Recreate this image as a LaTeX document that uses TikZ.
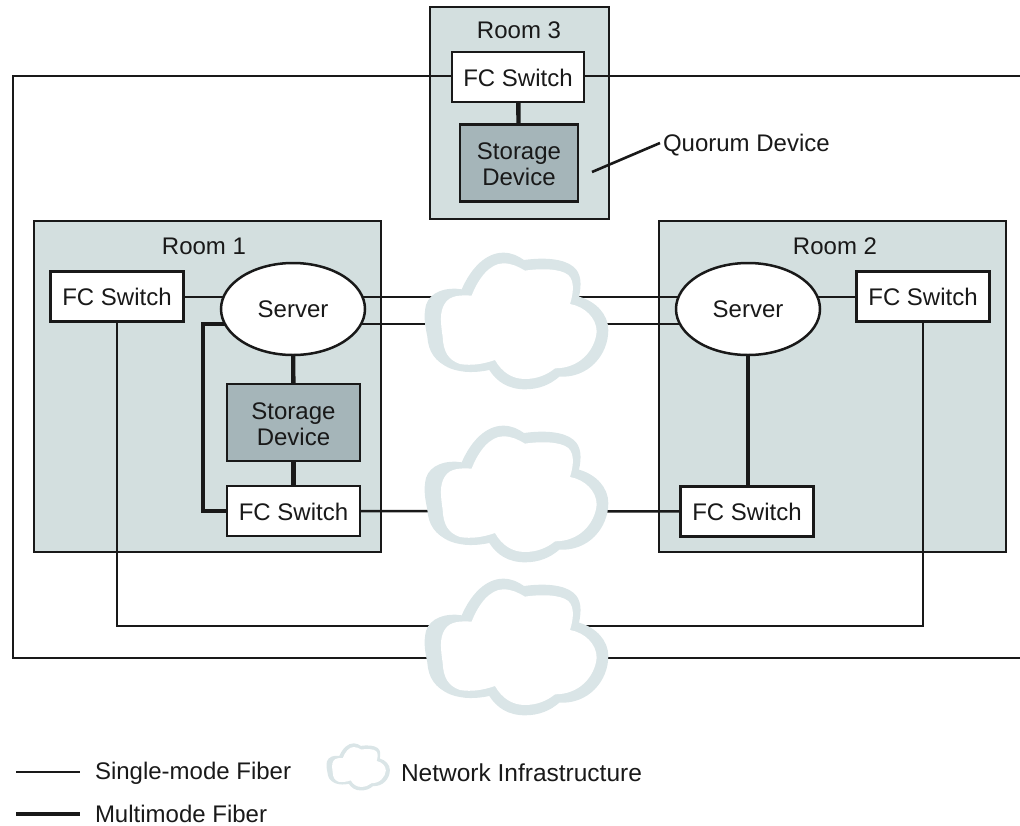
\documentclass[tikz,border=0pt]{standalone}
\usepackage{fontspec}
\setmainfont{Liberation Sans}
\usetikzlibrary{shapes.geometric}
\pgfdeclarelayer{roomlayer}
\pgfdeclarelayer{linelayer}
\pgfsetlayers{roomlayer,linelayer,main}
\definecolor{roomfill}{HTML}{D3DFDF}
\definecolor{storefill}{HTML}{A5B5B9}
\definecolor{cloudfill}{HTML}{DAE5E7}
\tikzset{
  every node/.style={font=\fontsize{24}{26}\selectfont, text=black!90, inner sep=0pt, outer sep=0pt},
  switchbox/.style={draw=black!90, line width=2.5pt, fill=white, rectangle, minimum width=133pt, minimum height=50pt},
  storebox/.style={draw=black!90, line width=2.5pt, fill=storefill, rectangle, minimum width=133pt, minimum height=77pt, align=center},
  serverell/.style={draw=black!90, line width=2.5pt, fill=white, ellipse, minimum width=144pt, minimum height=92pt},
  thin fiber/.style={draw=black!90, line width=2.6pt},
  thick fiber/.style={draw=black!90, line width=4.4pt},
  label text/.style={anchor=west}
}
\newcommand{\cloudshape}[3]{%
\begin{scope}[shift={(#1,#2)},scale=#3]
\fill[cloudfill] (185,178) .. controls (215,110) and (260,68) .. (310,68)
  .. controls (335,68) and (355,78) .. (372,90)
  .. controls (430,82) and (490,85) .. (520,110)
  .. controls (545,130) and (545,165) .. (537,200)
  .. controls (590,215) and (625,255) .. (625,300)
  .. controls (625,375) and (565,445) .. (478,440)
  .. controls (450,465) and (415,478) .. (375,478)
  .. controls (325,478) and (290,455) .. (268,420)
  .. controls (230,428) and (190,430) .. (150,415)
  .. controls (105,395) and (85,365) .. (82,320)
  .. controls (75,285) and (70,260) .. (78,225)
  .. controls (90,185) and (140,170) .. (185,178) -- cycle;
\fill[white] (215,197) .. controls (235,145) and (270,100) .. (310,100)
  .. controls (335,100) and (355,110) .. (375,122)
  .. controls (420,115) and (480,115) .. (505,135)
  .. controls (525,155) and (520,190) .. (510,222)
  .. controls (555,230) and (590,265) .. (590,305)
  .. controls (585,360) and (540,415) .. (465,415)
  .. controls (440,435) and (410,447) .. (375,447)
  .. controls (335,447) and (305,425) .. (285,390)
  .. controls (250,402) and (215,408) .. (180,402)
  .. controls (145,390) and (130,365) .. (128,320)
  .. controls (122,280) and (118,245) .. (135,220)
  .. controls (150,195) and (185,195) .. (215,197) -- cycle;
\end{scope}}
\begin{document}
\begin{tikzpicture}[x=1pt,y=-1pt]
\useasboundingbox (0,0) rectangle (1020,825);
% helper levels
\coordinate (ya) at (0,297);
\coordinate (yb) at (0,324);
\coordinate (yc) at (0,626);
\coordinate (yd) at (0,658);
\coordinate (ye) at (0,76);
\coordinate (fl) at (13,0);
\coordinate (fr) at (1020,0);
\coordinate (bendx) at (203,0);
\coordinate (lowleft) at (117,0);
\coordinate (lowright) at (923,0);
% nodes
\node[switchbox, minimum width=132pt] (sw3) at (518,77) {\rule{0pt}{20pt}FC Switch};
\node[storebox, minimum width=118pt] (st3) at (519,163) {\rule{0pt}{20pt}Storage\\Device};
\node[switchbox] (sw1a) at (117,296.5) {FC Switch};
\node[serverell] (srv1) at (293,309) {Server};
\node[storebox] (st1) at (293.5,422.5) {\rule{0pt}{20.5pt}Storage\\Device};
\node[switchbox] (sw1b) at (293.5,511) {\rule{0pt}{19pt}FC Switch};
\node[serverell] (srv2) at (748,309) {Server};
\node[switchbox] (sw2a) at (923,296.5) {FC Switch};
\node[switchbox] (sw2b) at (747,511.5) {FC Switch};
\node (r3) at (519,30) {Room 3};
\node (r1) at (204,246) {Room 1};
\node (r2) at (835,246) {Room 2};
\node[label text] (qd) at (663,145) {Quorum Device};
\coordinate (qdend) at (592,172);
\coordinate (qdline) at (660,143);
\node[label text] (lg1) at (95,773) {Single-mode Fiber};
\node[label text] (lg2) at (95,813.5) {Multimode Fiber};
\node[label text, font=\fontsize{24.5}{26}\selectfont] (lg3) at (401,773) {Network Infrastructure};
\coordinate (lg1a) at (16,772);
\coordinate (lg2a) at (16,814);
\coordinate (lg1b) at (80,772);
\coordinate (lg2b) at (80,814);
% rooms
\begin{pgfonlayer}{roomlayer}
\fill[roomfill,draw=black!90,line width=2.5pt] (430,7) rectangle (609,219);
\fill[roomfill,draw=black!90,line width=2.5pt] (34,221) rectangle (381,552);
\fill[roomfill,draw=black!90,line width=2.5pt] (659,221) rectangle (1006,552);
\end{pgfonlayer}
% connectors
\begin{pgfonlayer}{linelayer}
\draw[thin fiber] (sw3 |- ye) -- (fl |- ye) -- (fl |- yd) -- (fr |- yd);
\draw[thin fiber] (sw3 |- ye) -- (fr |- ye);
\draw[thick fiber] (sw3) -- (st3);
\draw[thin fiber] (qdend) -- (qdline);
\draw[thin fiber] (sw1a |- ya) -- (srv1 |- ya);
\draw[thin fiber] (srv1 |- ya) -- (srv2 |- ya);
\draw[thin fiber] (srv1 |- yb) -- (srv2 |- yb);
\draw[thin fiber] (srv2 |- ya) -- (sw2a |- ya);
\draw[thick fiber] (srv1) -- (st1);
\draw[thick fiber] (st1) -- (sw1b);
\draw[thick fiber,line join=miter] (srv1 |- yb) -- (bendx |- yb) -- (bendx |- sw1b) -- (sw1b);
\draw[thin fiber] (sw1b) -- (sw2b);
\draw[thick fiber] (srv2) -- (srv2 |- sw2b);
\draw[thin fiber] (lowleft |- sw1a) -- (lowleft |- yc) -- (lowright |- yc) -- (lowright |- sw2a);
\end{pgfonlayer}
\draw[thin fiber] (lg1a) -- (lg1b);
\draw[thick fiber] (lg2a) -- (lg2b);
% clouds
\cloudshape{400}{230}{0.3333}
\cloudshape{400}{403}{0.3333}
\cloudshape{400}{556}{0.3333}
\cloudshape{318}{735.5}{0.115}
\end{tikzpicture}
\end{document}
